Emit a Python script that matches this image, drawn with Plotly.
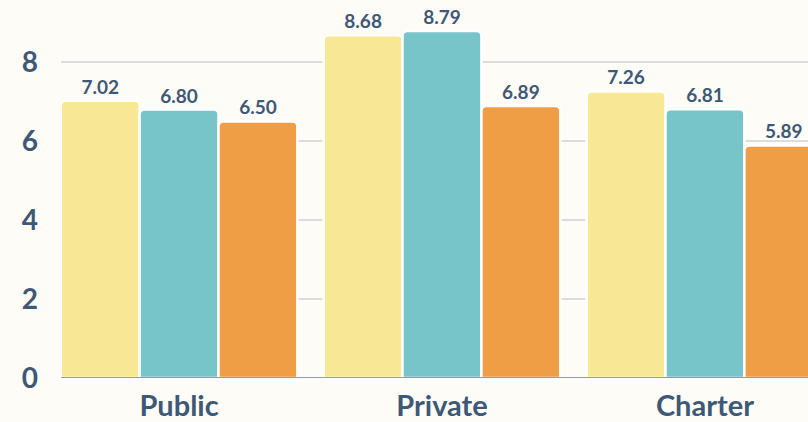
import plotly.graph_objects as go

# School types and average scores per survey series
categories = ["Public", "Private", "Charter"]
series_a = [7.02, 8.68, 7.26]
series_b = [6.80, 8.79, 6.81]
series_c = [6.50, 6.89, 5.89]
y_ticks = [0, 2, 4, 6, 8]

colors = ["#f8e896", "#78c5c9", "#ef9e46"]
ink = "#3e5877"
bg = "#fefcf6"

fig = go.Figure()
for vals, col in zip([series_a, series_b, series_c], colors):
    fig.add_trace(go.Bar(
        x=categories,
        y=vals,
        marker=dict(color=col, line=dict(color="#ffffff", width=2.5)),
        texttemplate="%{y:.2f}",
        textposition="outside",
        textfont=dict(family="Lato", size=19, color=ink, weight="bold"),
        cliponaxis=False,
        hoverinfo="skip",
    ))

# baseline drawn above the bars
fig.add_shape(
    type="line", xref="paper", yref="y",
    x0=0, x1=1, y0=0, y1=0,
    line=dict(color="#909cad", width=1.8),
    layer="above",
)

fig.update_layout(
    width=808,
    height=422,
    margin=dict(l=61, r=0, t=0, b=39),
    paper_bgcolor=bg,
    plot_bgcolor=bg,
    barmode="group",
    bargap=0.1,
    bargroupgap=0.0,
    barcornerradius=5,
    showlegend=False,
    font=dict(family="Lato", color=ink),
)
fig.update_xaxes(
    range=[-0.449, 2.392],
    showgrid=False,
    showline=False,
    ticks="",
    tickfont=dict(family="Lato", size=29, color=ink, weight="bold"),
    ticklabelstandoff=8,
)
fig.update_yaxes(
    range=[0, 9.575],
    tickvals=y_ticks,
    showgrid=True,
    gridcolor="#dcdcdc",
    gridwidth=1.5,
    zeroline=False,
    showline=False,
    ticks="",
    tickfont=dict(family="Lato", size=28, color=ink, weight="bold"),
    ticklabelstandoff=22,
)

fig.write_html("out.html")
